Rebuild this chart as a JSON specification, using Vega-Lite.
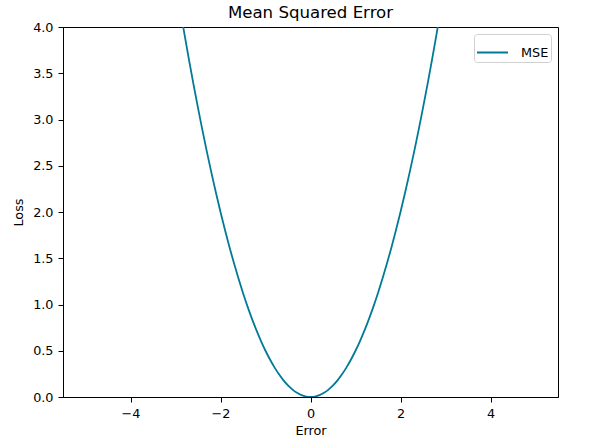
{
  "$schema": "https://vega.github.io/schema/vega-lite/v6.json",
  "width": 495,
  "height": 370,
  "autosize": {"type": "none"},
  "padding": {"left": 63, "top": 27, "right": 33, "bottom": 47},
  "background": "white",
  "config": {
    "font": "DejaVu Sans",
    "view": {"stroke": "black", "strokeWidth": 1},
    "axis": {
      "grid": false,
      "domainColor": "black",
      "tickColor": "black",
      "tickSize": 5,
      "labelFontSize": 12.8,
      "labelColor": "black",
      "labelPadding": 5,
      "titleFontSize": 12.8,
      "titleFontWeight": "normal",
      "titleColor": "black"
    }
  },
  "title": {"text": "Mean Squared Error", "fontSize": 16.6, "fontWeight": "normal", "font": "DejaVu Sans", "offset": -1, "color": "black"},
  "data": {
    "values": [
      {"error": -5, "loss": 12.5, "series": "MSE"},
      {"error": -4.5, "loss": 10.125, "series": "MSE"},
      {"error": -4, "loss": 8, "series": "MSE"},
      {"error": -3.5, "loss": 6.125, "series": "MSE"},
      {"error": -3, "loss": 4.5, "series": "MSE"},
      {"error": -2.9, "loss": 4.205, "series": "MSE"},
      {"error": -2.8, "loss": 3.92, "series": "MSE"},
      {"error": -2.7, "loss": 3.645, "series": "MSE"},
      {"error": -2.6, "loss": 3.38, "series": "MSE"},
      {"error": -2.5, "loss": 3.125, "series": "MSE"},
      {"error": -2.4, "loss": 2.88, "series": "MSE"},
      {"error": -2.3, "loss": 2.645, "series": "MSE"},
      {"error": -2.2, "loss": 2.42, "series": "MSE"},
      {"error": -2.1, "loss": 2.205, "series": "MSE"},
      {"error": -2.0, "loss": 2.0, "series": "MSE"},
      {"error": -1.9, "loss": 1.805, "series": "MSE"},
      {"error": -1.8, "loss": 1.62, "series": "MSE"},
      {"error": -1.7, "loss": 1.445, "series": "MSE"},
      {"error": -1.6, "loss": 1.28, "series": "MSE"},
      {"error": -1.5, "loss": 1.125, "series": "MSE"},
      {"error": -1.4, "loss": 0.98, "series": "MSE"},
      {"error": -1.3, "loss": 0.845, "series": "MSE"},
      {"error": -1.2, "loss": 0.72, "series": "MSE"},
      {"error": -1.1, "loss": 0.605, "series": "MSE"},
      {"error": -1.0, "loss": 0.5, "series": "MSE"},
      {"error": -0.9, "loss": 0.405, "series": "MSE"},
      {"error": -0.8, "loss": 0.32, "series": "MSE"},
      {"error": -0.7, "loss": 0.245, "series": "MSE"},
      {"error": -0.6, "loss": 0.18, "series": "MSE"},
      {"error": -0.5, "loss": 0.125, "series": "MSE"},
      {"error": -0.4, "loss": 0.08, "series": "MSE"},
      {"error": -0.3, "loss": 0.045, "series": "MSE"},
      {"error": -0.2, "loss": 0.02, "series": "MSE"},
      {"error": -0.1, "loss": 0.005, "series": "MSE"},
      {"error": 0, "loss": 0, "series": "MSE"},
      {"error": 0.1, "loss": 0.005, "series": "MSE"},
      {"error": 0.2, "loss": 0.02, "series": "MSE"},
      {"error": 0.3, "loss": 0.045, "series": "MSE"},
      {"error": 0.4, "loss": 0.08, "series": "MSE"},
      {"error": 0.5, "loss": 0.125, "series": "MSE"},
      {"error": 0.6, "loss": 0.18, "series": "MSE"},
      {"error": 0.7, "loss": 0.245, "series": "MSE"},
      {"error": 0.8, "loss": 0.32, "series": "MSE"},
      {"error": 0.9, "loss": 0.405, "series": "MSE"},
      {"error": 1.0, "loss": 0.5, "series": "MSE"},
      {"error": 1.1, "loss": 0.605, "series": "MSE"},
      {"error": 1.2, "loss": 0.72, "series": "MSE"},
      {"error": 1.3, "loss": 0.845, "series": "MSE"},
      {"error": 1.4, "loss": 0.98, "series": "MSE"},
      {"error": 1.5, "loss": 1.125, "series": "MSE"},
      {"error": 1.6, "loss": 1.28, "series": "MSE"},
      {"error": 1.7, "loss": 1.445, "series": "MSE"},
      {"error": 1.8, "loss": 1.62, "series": "MSE"},
      {"error": 1.9, "loss": 1.805, "series": "MSE"},
      {"error": 2.0, "loss": 2.0, "series": "MSE"},
      {"error": 2.1, "loss": 2.205, "series": "MSE"},
      {"error": 2.2, "loss": 2.42, "series": "MSE"},
      {"error": 2.3, "loss": 2.645, "series": "MSE"},
      {"error": 2.4, "loss": 2.88, "series": "MSE"},
      {"error": 2.5, "loss": 3.125, "series": "MSE"},
      {"error": 2.6, "loss": 3.38, "series": "MSE"},
      {"error": 2.7, "loss": 3.645, "series": "MSE"},
      {"error": 2.8, "loss": 3.92, "series": "MSE"},
      {"error": 2.9, "loss": 4.205, "series": "MSE"},
      {"error": 3, "loss": 4.5, "series": "MSE"},
      {"error": 3.5, "loss": 6.125, "series": "MSE"},
      {"error": 4, "loss": 8, "series": "MSE"},
      {"error": 4.5, "loss": 10.125, "series": "MSE"},
      {"error": 5, "loss": 12.5, "series": "MSE"}
    ]
  },
  "mark": {"type": "line", "clip": true, "strokeWidth": 1.8, "interpolate": "monotone"},
  "encoding": {
    "x": {
      "field": "error", "type": "quantitative", "title": "Error",
      "scale": {"domain": [-5.5, 5.5], "nice": false, "zero": false},
      "axis": {"values": [-4, -2, 0, 2, 4], "format": "d", "titlePadding": 5}
    },
    "y": {
      "field": "loss", "type": "quantitative", "title": "Loss",
      "scale": {"domain": [0, 4], "nice": false},
      "axis": {"values": [0, 0.5, 1, 1.5, 2, 2.5, 3, 3.5, 4], "format": ".1f", "titlePadding": 7}
    },
    "color": {
      "field": "series", "type": "nominal",
      "scale": {"range": ["#007a96"]},
      "legend": {
        "title": null,
        "orient": "top-right",
        "offset": 7,
        "symbolType": "stroke",
        "symbolSize": 961,
        "symbolStrokeWidth": 2,
        "labelFontSize": 12.8,
        "labelColor": "black",
        "strokeColor": "#d0d0d0",
        "fillColor": "white",
        "cornerRadius": 3,
        "padding": 2,
        "labelOffset": 12
      }
    }
  }
}
